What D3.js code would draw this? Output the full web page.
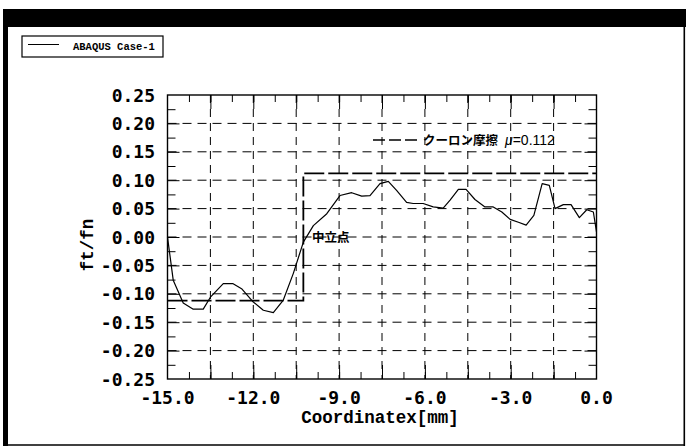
<!DOCTYPE html>
<html><head><meta charset="utf-8">
<script src="https://cdn.jsdelivr.net/npm/d3@7/dist/d3.min.js"></script>
<style>
html,body{margin:0;padding:0;background:#fff;}
svg{display:block;}
</style></head>
<body>
<svg id="chart" width="686" height="447"></svg>
<script>
// ---- data ----
const curveX = [-15.0,-14.8,-14.45,-14.1,-13.75,-13.5,-13.05,-12.72,-12.41,-12.03,-11.65,-11.3,-10.95,-10.6,-10.25,-9.9,-9.43,-8.97,-8.56,-8.21,-7.92,-7.57,-7.28,-6.99,-6.64,-6.41,-6.06,-5.71,-5.36,-5.12,-4.83,-4.56,-4.25,-3.9,-3.61,-3.31,-3.02,-2.73,-2.46,-2.19,-1.9,-1.65,-1.45,-1.16,-0.89,-0.6,-0.34,-0.11,0.0];
const curveY = [0.0,-0.076,-0.116,-0.127,-0.127,-0.106,-0.082,-0.082,-0.091,-0.113,-0.129,-0.133,-0.111,-0.064,-0.009,0.02,0.041,0.073,0.078,0.072,0.073,0.094,0.098,0.082,0.061,0.059,0.059,0.053,0.051,0.065,0.084,0.084,0.066,0.053,0.053,0.044,0.031,0.026,0.021,0.038,0.094,0.091,0.05,0.057,0.057,0.034,0.048,0.044,0.009];
const coulombX = [-15.0,-10.25,-10.25,0.0];
const coulombY = [-0.112,-0.112,0.112,0.112];
const xTickLabels = [-15.0,-12.0,-9.0,-6.0,-3.0,0.0];
const xGridValues = [-13.5,-12.0,-10.5,-9.0,-7.5,-6.0,-4.5,-3.0,-1.5];
const xMinorTicks = [-14.25,-13.5,-12.75,-12.0,-11.25,-10.5,-9.75,-9.0,-8.25,-7.5,-6.75,-6.0,-5.25,-4.5,-3.75,-3.0,-2.25,-1.5,-0.75];
const yTickLabels = [0.25,0.20,0.15,0.10,0.05,0.00,-0.05,-0.10,-0.15,-0.20,-0.25];
const yGridValues = [0.20,0.15,0.10,0.05,0.00,-0.05,-0.10,-0.15,-0.20];
const yMinorTicks = [0.225,0.175,0.125,0.075,0.025,-0.025,-0.075,-0.125,-0.175,-0.225];
const legendLabel = "ABAQUS Case-1";
const coulombLabel = "クーロン摩擦";
const muLabel = "μ=0.112";
const neutralLabel = "中立点";
const xTitle = "Coordinatex[mm]";
const yTitle = "ft/fn";

// ---- layout ----
const svg = d3.select("#chart");
const L = 167.5, R = 596.5, T = 95, B = 379;
const x = d3.scaleLinear().domain([-15, 0]).range([L, R]);
const y = d3.scaleLinear().domain([-0.25, 0.25]).range([B, T]);

// outer frame
svg.append("rect").attr("x",3).attr("y",9).attr("width",683).attr("height",18).attr("fill","#000");
svg.append("rect").attr("x",3).attr("y",9).attr("width",5).attr("height",437).attr("fill","#000");
svg.append("line").attr("x1",684.3).attr("x2",684.3).attr("y1",9).attr("y2",446).attr("stroke","#000").attr("stroke-width",1.6);
svg.append("line").attr("x1",3).attr("x2",685).attr("y1",445).attr("y2",445).attr("stroke","#000").attr("stroke-width",1.6);

// legend box
const lg = svg.append("g");
lg.append("rect").attr("x",22).attr("y",36).attr("width",141).attr("height",21).attr("fill","none").attr("stroke","#000").attr("stroke-width",1.2);
lg.append("line").attr("x1",28).attr("x2",59).attr("y1",44.5).attr("y2",44.5).attr("stroke","#000").attr("stroke-width",1);
lg.append("text").attr("x",73).attr("y",49.5).attr("font-family","Liberation Mono").attr("font-weight","bold").attr("font-size",10.5).text(legendLabel);

// grid
const grid = svg.append("g").attr("stroke","#000").attr("stroke-width",1).attr("fill","none");
grid.selectAll("line.vg").data(xGridValues).join("line").attr("class","vg")
  .attr("x1",d=>x(d)).attr("x2",d=>x(d)).attr("y1",T).attr("y2",B).attr("stroke-dasharray","8,6");
grid.selectAll("line.hg").data(yGridValues).join("line").attr("class","hg")
  .attr("x1",L).attr("x2",R).attr("y1",d=>y(d)).attr("y2",d=>y(d)).attr("stroke-dasharray","9,6");

// axes with inward ticks
const tickFmtNone = () => "";
const axB = d3.axisBottom(x).tickValues(xMinorTicks).tickSize(-7).tickFormat(tickFmtNone);
const axT = d3.axisTop(x).tickValues(xMinorTicks).tickSize(-7).tickFormat(tickFmtNone);
const axL = d3.axisLeft(y).tickValues(yMinorTicks).tickSize(-8).tickFormat(tickFmtNone);
const axR = d3.axisRight(y).tickValues(yMinorTicks).tickSize(-8).tickFormat(tickFmtNone);
const axB2 = d3.axisBottom(x).tickValues(xGridValues).tickSize(-14).tickFormat(tickFmtNone);
const axT2 = d3.axisTop(x).tickValues(xGridValues).tickSize(-14).tickFormat(tickFmtNone);
const axL2 = d3.axisLeft(y).tickValues(yGridValues).tickSize(-12).tickFormat(tickFmtNone);
const axR2 = d3.axisRight(y).tickValues(yGridValues).tickSize(-12).tickFormat(tickFmtNone);
[[axB,`translate(0,${B})`],[axT,`translate(0,${T})`],[axL,`translate(${L},0)`],[axR,`translate(${R},0)`],
 [axB2,`translate(0,${B})`],[axT2,`translate(0,${T})`],[axL2,`translate(${L},0)`],[axR2,`translate(${R},0)`]].forEach(([a,t])=>{
  const g = svg.append("g").attr("transform",t).call(a);
  g.select(".domain").remove();
  g.selectAll("line").attr("stroke","#000").attr("stroke-width",1);
});
svg.append("rect").attr("x",L).attr("y",T).attr("width",R-L).attr("height",B-T).attr("fill","none").attr("stroke","#000").attr("stroke-width",1.4);

// tick labels
svg.append("g").selectAll("text").data(xTickLabels).join("text")
  .attr("x",d=>x(d)).attr("y",404).attr("text-anchor","middle")
  .attr("font-family","DejaVu Sans Mono").attr("font-weight","bold").attr("font-size",18)
  .text(d=>d.toFixed(1));
svg.append("g").selectAll("text").data(yTickLabels).join("text")
  .attr("x",155).attr("y",d=>y(d)+6.5).attr("text-anchor","end")
  .attr("font-family","DejaVu Sans Mono").attr("font-weight","bold").attr("font-size",18)
  .text(d=>d.toFixed(2));

// axis titles
svg.append("text").attr("x",380).attr("y",423).attr("text-anchor","middle")
  .attr("font-family","Liberation Mono").attr("font-weight","bold").attr("font-size",17.5).text(xTitle);
svg.append("text").attr("transform","translate(93,245) rotate(-90)").attr("text-anchor","middle")
  .attr("font-family","Liberation Mono").attr("font-weight","bold").attr("font-size",17.5).text(yTitle);

// coulomb friction line
const line = d3.line().x(d=>x(d[0])).y(d=>y(d[1]));
svg.append("path").datum(d3.zip(coulombX,coulombY)).attr("d",line)
  .attr("fill","none").attr("stroke","#000").attr("stroke-width",1.8).attr("stroke-dasharray","20,4");

// simulation curve
svg.append("path").datum(d3.zip(curveX,curveY)).attr("d",line)
  .attr("fill","none").attr("stroke","#000").attr("stroke-width",1.2).attr("stroke-linejoin","round");

// annotations
svg.append("line").attr("x1",373).attr("x2",418).attr("y1",140).attr("y2",140)
  .attr("stroke","#000").attr("stroke-width",1.6).attr("stroke-dasharray","12,4");
svg.append("text").attr("x",423).attr("y",145).attr("font-family","Noto Sans CJK JP").attr("font-weight","bold").attr("font-size",12.5).text(coulombLabel);
svg.append("text").attr("x",505).attr("y",145).attr("font-family","Liberation Sans Narrow, Liberation Sans").attr("font-size",14).attr("font-style","italic").text("μ")
  .append("tspan").attr("font-style","normal").text(muLabel.slice(1));
svg.append("text").attr("x",312).attr("y",242).attr("font-family","Noto Sans CJK JP").attr("font-weight","bold").attr("font-size",12.5).text(neutralLabel);
</script>
</body></html>
